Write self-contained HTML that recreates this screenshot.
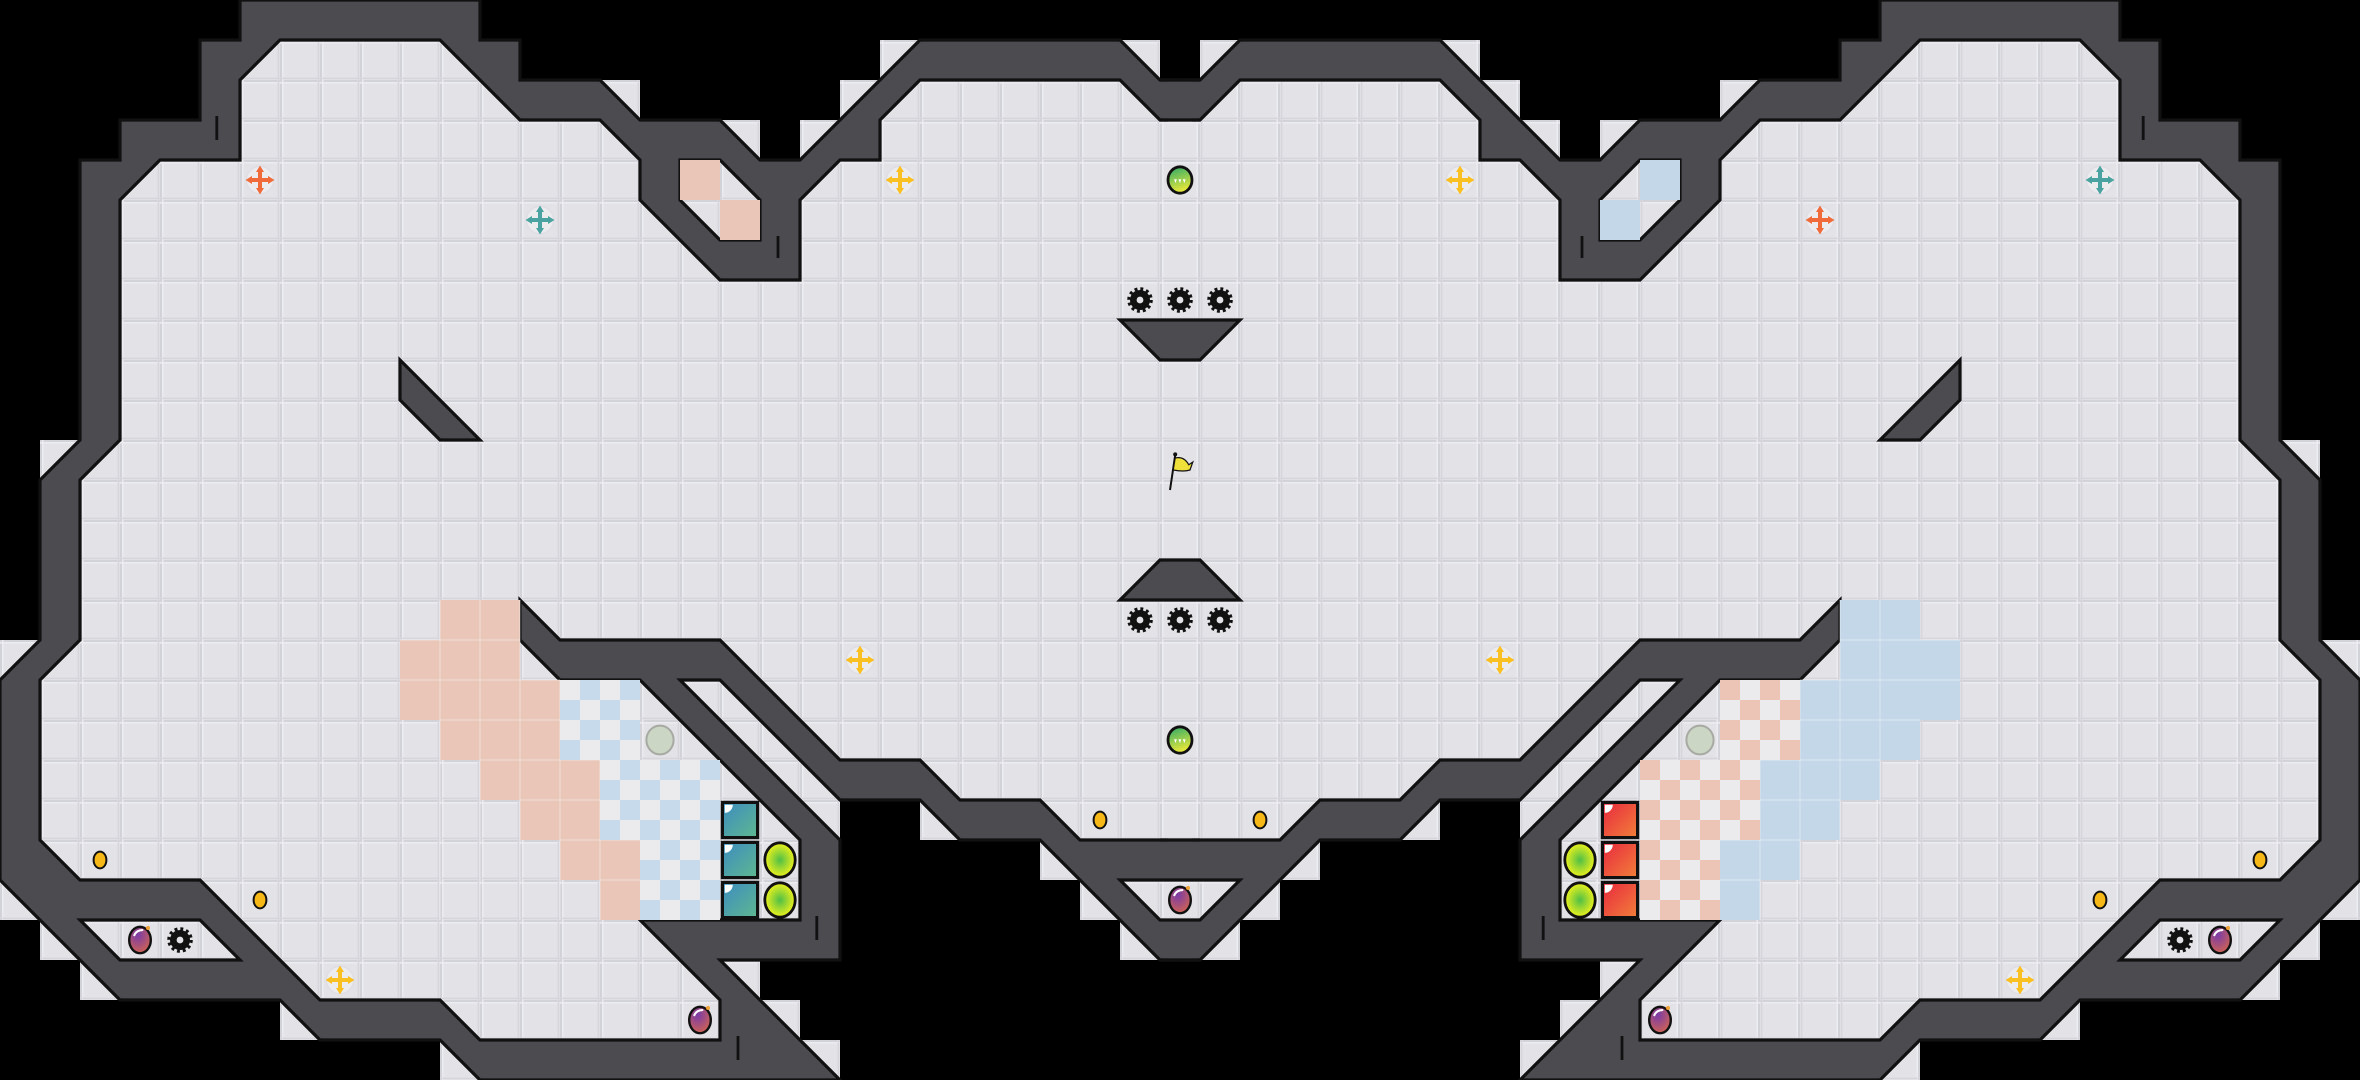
<!DOCTYPE html>
<html><head><meta charset="utf-8"><style>html,body{margin:0;padding:0;background:#000;width:2360px;height:1080px;overflow:hidden}svg{display:block}</style></head>
<body>
<svg width="2360" height="1080" viewBox="0 0 59 27" xmlns="http://www.w3.org/2000/svg">
<defs>
<pattern id="g" width="1" height="1" patternUnits="userSpaceOnUse">
<rect width="1" height="1" fill="#e2e2e7"/>
<path d="M0 0.025H1M0.025 0V1" stroke="#d2d2d9" stroke-width="0.05"/>
<path d="M0 0.07H1M0.07 0V1" stroke="#ececf0" stroke-width="0.04"/>
<path d="M0 0.96H1M0.96 0V1" stroke="#d6d6dc" stroke-width="0.04"/>
</pattern>
<radialGradient id="yb" cx="0.5" cy="0.5" r="0.5"><stop offset="0" stop-color="#4fbf45"/><stop offset="1" stop-color="#eef21c"/></radialGradient>
<linearGradient id="tb" x1="0" y1="0" x2="1" y2="1"><stop offset="0" stop-color="#3c8cc0"/><stop offset="1" stop-color="#5fb890"/></linearGradient>
<linearGradient id="rb" x1="0" y1="0" x2="1" y2="1"><stop offset="0" stop-color="#e8283e"/><stop offset="1" stop-color="#f2803a"/></linearGradient>
<linearGradient id="gr" x1="0" y1="0" x2="0.3" y2="1"><stop offset="0" stop-color="#27a86a"/><stop offset="1" stop-color="#e6e83a"/></linearGradient>
<radialGradient id="bm" cx="0.4" cy="0.3" r="0.8"><stop offset="0" stop-color="#7a3aa8"/><stop offset="1" stop-color="#d8684a"/></radialGradient>
<g id="cr">
<circle r="0.34" fill="#ececef" stroke="#dcdce2" stroke-width="0.03"/>
<path d="M-0.05 -0.22H0.05V-0.05H0.22V0.05H0.05V0.22H-0.05V0.05H-0.22V-0.05H-0.05Z" fill="currentColor"/>
<path d="M0 -0.36L0.1 -0.2H-0.1ZM0 0.36L0.1 0.2H-0.1ZM-0.36 0L-0.2 0.1V-0.1ZM0.36 0L0.2 0.1V-0.1Z" fill="currentColor"/>
</g>
<g id="gear">
<circle r="0.27" fill="none" stroke="#111" stroke-width="0.1" stroke-dasharray="0.07 0.0714"/>
<circle r="0.25" fill="#111"/>
<circle r="0.085" fill="#e2e2e7"/>
</g>
<g id="bomb">
<ellipse rx="0.27" ry="0.33" fill="url(#bm)" stroke="#111" stroke-width="0.06"/>
<path d="M-0.15 -0.1Q-0.1 -0.25 0.08 -0.25" stroke="#fff" stroke-width="0.05" fill="none"/>
<circle cx="0.2" cy="-0.3" r="0.05" fill="#f0a030"/>
</g>
<g id="orb">
<ellipse rx="0.3" ry="0.33" fill="url(#gr)" stroke="#111" stroke-width="0.07"/>
<path d="M-0.15 -0.02L-0.08 -0.02L-0.11 0.08ZM-0.04 -0.02L0.03 -0.02L0 0.08ZM0.07 -0.02L0.14 -0.02L0.11 0.08Z" fill="#fff"/>
</g>
<g id="coin"><ellipse rx="0.16" ry="0.21" fill="#f6b816" stroke="#111" stroke-width="0.05"/></g>
<g id="ball"><ellipse cx="0.5" cy="0.5" rx="0.38" ry="0.43" fill="url(#yb)" stroke="#111" stroke-width="0.07"/></g>
<g id="L">
<path d="M17 17L18 17L21 20L21 21Z" fill="url(#g)"/>
<g fill="url(#g)">
<rect x="22" y="1" width="1" height="1"/><rect x="21" y="2" width="1" height="1"/><rect x="20" y="3" width="1" height="1"/>
<rect x="28" y="1" width="1" height="1"/><rect x="15" y="2" width="1" height="1"/><rect x="18" y="3" width="1" height="1"/>
<rect x="1" y="11" width="1" height="1"/><rect x="0" y="16" width="1" height="1"/><rect x="0" y="22" width="1" height="1"/>
<rect x="1" y="23" width="1" height="1"/><rect x="2" y="24" width="1" height="1"/><rect x="7" y="25" width="1" height="1"/>
<rect x="11" y="26" width="1" height="1"/><rect x="18" y="24" width="1" height="1"/><rect x="19" y="25" width="1" height="1"/>
<rect x="20" y="26" width="1" height="1"/><rect x="23" y="20" width="1" height="1"/><rect x="26" y="21" width="1" height="1"/>
<rect x="27" y="22" width="1" height="1"/><rect x="28" y="23" width="1" height="1"/>
</g>
<polygon fill="#4b4b50" points="29.6,2 29,2 28,1 23,1 22,2 21,3 20,4 19,4 18,3 16,3 15,2 13,2 13,1 12,1 12,0 6,0 6,1 5,1 5,3 3,3 3,4 2,4 2,11 1,12 1,16 0,17 0,22 3,25 7,25 8,26 11,26 12,27 21,27 18,24 21,24 21,21 17,17 18,17 21,20 23,20 24,21 26,21 29,24 29.6,24"/>
<polyline fill="none" stroke="#111" stroke-width="0.08" stroke-linejoin="miter" points="29.6,2 29,2 28,1 23,1 22,2 21,3 20,4 19,4 18,3 16,3 15,2 13,2 13,1 12,1 12,0 6,0 6,1 5,1 5,3 3,3 3,4 2,4 2,11 1,12 1,16 0,17 0,22 3,25 7,25 8,26 11,26 12,27 21,27 18,24 21,24 21,21 17,17 18,17 21,20 23,20 24,21 26,21 29,24 29.6,24"/>
<polygon fill="url(#g)" points="29.6,3 29,3 28,2 23,2 22,3 22,4 21,4 20,5 20,7 18,7 16,5 16,4 15,3 13,3 11,1 7,1 6,2 6,4 4,4 3,5 3,11 2,12 2,16 1,17 1,21 2,22 5,22 8,25 11,25 12,26 18,26 18,25 16,23 20,23 20,21 16,17 14,17 13,16 13,15 14,16 18,16 21,19 23,19 24,20 26,20 27,21 29.6,21"/>
<polyline fill="none" stroke="#111" stroke-width="0.08" points="29.6,3 29,3 28,2 23,2 22,3 22,4 21,4 20,5 20,7 18,7 16,5 16,4 15,3 13,3 11,1 7,1 6,2 6,4 4,4 3,5 3,11 2,12 2,16 1,17 1,21 2,22 5,22 8,25 11,25 12,26 18,26 18,25 16,23 20,23 20,21 16,17 14,17 13,16 13,15 14,16 18,16 21,19 23,19 24,20 26,20 27,21 29.6,21"/>
<polygon fill="url(#g)" stroke="#111" stroke-width="0.08" points="17,4 18,4 19,5 19,6 18,6 17,5"/>
<polygon fill="url(#g)" stroke="#111" stroke-width="0.08" points="2,23 5,23 6,24 3,24"/>
<polygon fill="#4b4b50" stroke="#111" stroke-width="0.08" points="10,9 12,11 11,11 10,10"/>
<g stroke="#111" stroke-width="0.07">
<path d="M5.42 2.9V3.5M19.45 5.9V6.45M20.42 22.9V23.5M18.45 25.9V26.5"/>
</g>
</g>
</defs>

<use href="#L"/>
<use href="#L" transform="matrix(-1 0 0 1 59 0)"/>

<!-- seam cover -->
<rect x="29.2" y="2.04" width="0.6" height="0.92" fill="#4b4b50"/>
<rect x="29.2" y="3.04" width="0.6" height="17.92" fill="url(#g)"/>
<rect x="29.2" y="21.04" width="0.6" height="2.92" fill="#4b4b50"/>
<path d="M29 2H30M29 3H30M29 21H30M29 24H30" stroke="#111" stroke-width="0.08"/>

<!-- center pieces -->
<polygon fill="url(#g)" stroke="#111" stroke-width="0.08" points="28,22 31,22 30,23 29,23"/>
<polygon fill="#4b4b50" stroke="#111" stroke-width="0.08" points="28,8 31,8 30,9 29,9"/>
<polygon fill="#4b4b50" stroke="#111" stroke-width="0.08" points="29,14 30,14 31,15 28,15"/>

<g fill="#e9c6b8">
<rect x="11" y="15" width="2" height="1"/><rect x="10" y="16" width="3" height="1"/><rect x="10" y="17" width="4" height="1"/>
<rect x="11" y="18" width="3" height="1"/><rect x="12" y="19" width="3" height="1"/><rect x="13" y="20" width="2" height="1"/>
<rect x="14" y="21" width="2" height="1"/><rect x="15" y="22" width="1" height="1"/>
<rect x="17" y="4" width="1" height="1"/><rect x="18" y="5" width="1" height="1"/>
</g>
<g fill="#c3d7e8">
<rect x="46" y="15" width="2" height="1"/><rect x="46" y="16" width="3" height="1"/><rect x="45" y="17" width="4" height="1"/>
<rect x="45" y="18" width="3" height="1"/><rect x="44" y="19" width="3" height="1"/><rect x="44" y="20" width="2" height="1"/>
<rect x="43" y="21" width="2" height="1"/><rect x="43" y="22" width="1" height="1"/>
<rect x="41" y="4" width="1" height="1"/><rect x="40" y="5" width="1" height="1"/>
</g>
<g stroke="#ffffff" stroke-opacity="0.35" stroke-width="0.03" fill="none">
<path d="M10 16H13M10 17H14M11 18H14M12 19H15M13 20H15M14 21H16M15 22H16M11 15V23M12 15V23M13 15V23M14 17V23M15 19V23"/>
<path d="M46 16H49M45 17H49M45 18H48M44 19H47M44 20H46M43 21H45M43 22H44M47 15V23M46 15V23M45 17V23M44 19V23"/>
</g>
<pattern id="ckL" width="1" height="1" patternUnits="userSpaceOnUse"><rect width="1" height="1" fill="#ebebee"/><rect x="0.5" width="0.5" height="0.5" fill="#c6daeb"/><rect y="0.5" width="0.5" height="0.5" fill="#c6daeb"/></pattern>
<pattern id="ckR" width="1" height="1" patternUnits="userSpaceOnUse"><rect width="1" height="1" fill="#ebebee"/><rect width="0.5" height="0.5" fill="#ecc5b6"/><rect x="0.5" y="0.5" width="0.5" height="0.5" fill="#ecc5b6"/></pattern>
<g fill="url(#ckL)">
<rect x="14" y="17" width="2" height="2"/><rect x="15" y="19" width="3" height="2"/><rect x="16" y="21" width="2" height="2"/>
</g>
<g fill="url(#ckR)">
<rect x="43" y="17" width="2" height="2"/><rect x="41" y="19" width="3" height="2"/><rect x="41" y="21" width="2" height="2"/>
</g>

<g stroke="#111" stroke-width="0.08">
<rect x="18.06" y="20.06" width="0.88" height="0.88" fill="url(#tb)"/><rect x="18.06" y="21.06" width="0.88" height="0.88" fill="url(#tb)"/><rect x="18.06" y="22.06" width="0.88" height="0.88" fill="url(#tb)"/>
<rect x="40.06" y="20.06" width="0.88" height="0.88" fill="url(#rb)"/><rect x="40.06" y="21.06" width="0.88" height="0.88" fill="url(#rb)"/><rect x="40.06" y="22.06" width="0.88" height="0.88" fill="url(#rb)"/>
</g>
<g fill="#fff">
<path d="M18.12 20.12h0.2a0.2 0.2 0 0 1 -0.2 0.2z"/><path d="M18.12 21.12h0.2a0.2 0.2 0 0 1 -0.2 0.2z"/><path d="M18.12 22.12h0.2a0.2 0.2 0 0 1 -0.2 0.2z"/>
<path d="M40.12 20.12h0.2a0.2 0.2 0 0 1 -0.2 0.2z"/><path d="M40.12 21.12h0.2a0.2 0.2 0 0 1 -0.2 0.2z"/><path d="M40.12 22.12h0.2a0.2 0.2 0 0 1 -0.2 0.2z"/>
</g>
<use href="#ball" x="19" y="21"/><use href="#ball" x="19" y="22"/>
<use href="#ball" x="39" y="21"/><use href="#ball" x="39" y="22"/>
<ellipse cx="16.5" cy="18.5" rx="0.34" ry="0.36" fill="#ccd6c4" stroke="#a6aaa2" stroke-width="0.05"/>
<ellipse cx="42.5" cy="18.5" rx="0.34" ry="0.36" fill="#ccd6c4" stroke="#a6aaa2" stroke-width="0.05"/>

<use href="#cr" x="6.5" y="4.5" style="color:#f06a3a"/>
<use href="#cr" x="13.5" y="5.5" style="color:#4aa3a0"/>
<use href="#cr" x="52.5" y="4.5" style="color:#4aa3a0"/>
<use href="#cr" x="45.5" y="5.5" style="color:#f06a3a"/>
<g style="color:#f8c020">
<use href="#cr" x="22.5" y="4.5"/><use href="#cr" x="36.5" y="4.5"/>
<use href="#cr" x="21.5" y="16.5"/><use href="#cr" x="37.5" y="16.5"/>
<use href="#cr" x="8.5" y="24.5"/><use href="#cr" x="50.5" y="24.5"/>
</g>

<use href="#gear" x="28.5" y="7.5"/><use href="#gear" x="29.5" y="7.5"/><use href="#gear" x="30.5" y="7.5"/>
<use href="#gear" x="28.5" y="15.5"/><use href="#gear" x="29.5" y="15.5"/><use href="#gear" x="30.5" y="15.5"/>
<use href="#gear" x="4.5" y="23.5"/><use href="#gear" x="54.5" y="23.5"/>

<use href="#orb" x="29.5" y="4.5"/><use href="#orb" x="29.5" y="18.5"/>
<use href="#bomb" x="29.5" y="22.5"/><use href="#bomb" x="3.5" y="23.5"/><use href="#bomb" x="55.5" y="23.5"/>
<use href="#bomb" x="17.5" y="25.5"/><use href="#bomb" x="41.5" y="25.5"/>
<use href="#coin" x="2.5" y="21.5"/><use href="#coin" x="6.5" y="22.5"/><use href="#coin" x="27.5" y="20.5"/>
<use href="#coin" x="31.5" y="20.5"/><use href="#coin" x="52.5" y="22.5"/><use href="#coin" x="56.5" y="21.5"/>

<line x1="29.25" y1="12.25" x2="29.38" y2="11.38" stroke="#111" stroke-width="0.05"/>
<circle cx="29.38" cy="11.36" r="0.05" fill="#111"/>
<path d="M29.38 11.45Q29.6 11.4 29.72 11.62L29.82 11.55L29.75 11.75Q29.6 11.8 29.33 11.75Z" fill="#f0e03a" stroke="#111" stroke-width="0.03"/>
</svg>
</body></html>
